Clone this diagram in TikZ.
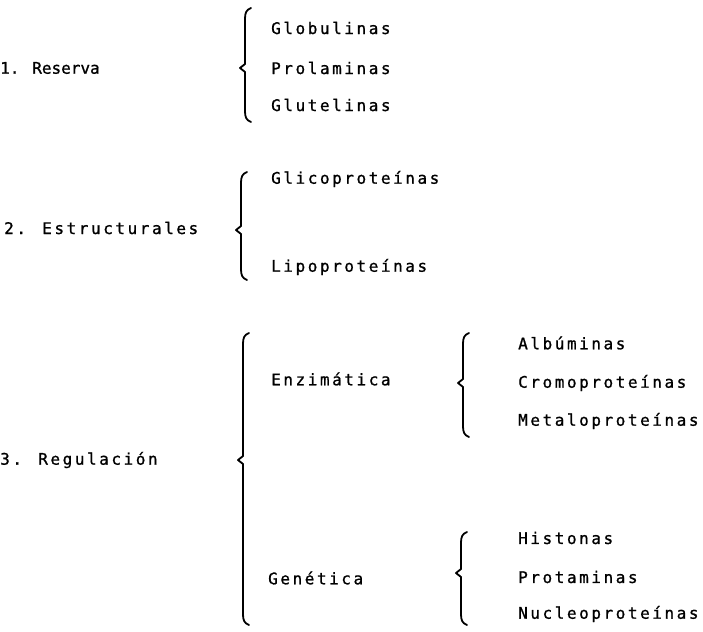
\documentclass[tikz,border=0pt]{standalone}
\usepackage{fontspec}
\usepackage{tikz}
\newfontfamily\typefont[LetterSpace=16, FakeBold=1]{DejaVu Sans Mono}
\newfontfamily\narrowfont[FakeBold=1]{DejaVu Sans Mono}
\def\bw{1.8pt}   % line width of the braces

% curly brace: x, top, tip, bottom
\newcommand{\curly}[4]{%
  \draw[line width=\bw, line join=round, line cap=round]
    (#1+6,#2) .. controls (#1+1,#2+2) and (#1,#2+5) .. (#1,#2+11)
    -- (#1,#3-4) -- (#1-5,#3) -- (#1,#3+4)
    -- (#1,#4-11) .. controls (#1,#4-5) and (#1+1,#4-2) .. (#1+6,#4);}

\begin{document}
\begin{tikzpicture}[x=1pt, y=-1pt,
  item/.style={anchor=west, inner sep=0pt, font=\typefont\fontsize{16}{18}\selectfont}]

\useasboundingbox (0,0) rectangle (703,631);

% main groups
\node[item, font=\narrowfont\fontsize{16}{18}\selectfont] (reserva) at (0,68) {1. Reserva};
\node[item] (estruct) at (4,228) {2. Estructurales};
\node[item] (regul)   at (0,460) {3. Regulación};

% braces of the first level
\curly{245}{8}{68}{122}
\curly{241}{172}{230}{280}
\curly{243}{333}{460}{625}

% reserva
\node[item] (glob) at (271,28)  {Globulinas};
\node[item] (prol) at (271,68)  {Prolaminas};
\node[item] (glut) at (271,105) {Glutelinas};

% estructurales
\node[item] (glic) at (271,179) {Glicoproteínas};
\node[item] (lipo) at (271,267) {Lipoproteínas};

% regulacion
\node[item] (enzim) at (271,379) {Enzimática};
\node[item] (genet) at (268,578) {Genética};

% braces of the second level
\curly{463}{333}{383}{437}
\curly{461}{532}{573}{625}

% enzimatica
\node[item] (albu)  at (518,343) {Albúminas};
\node[item] (cromo) at (518,383) {Cromoproteínas};
\node[item] (metal) at (518,421) {Metaloproteínas};

% genetica
\node[item] (hist) at (518,538) {Histonas};
\node[item] (prot) at (518,577) {Protaminas};
\node[item] (nucl) at (518,614) {Nucleoproteínas};

\end{tikzpicture}
\end{document}
